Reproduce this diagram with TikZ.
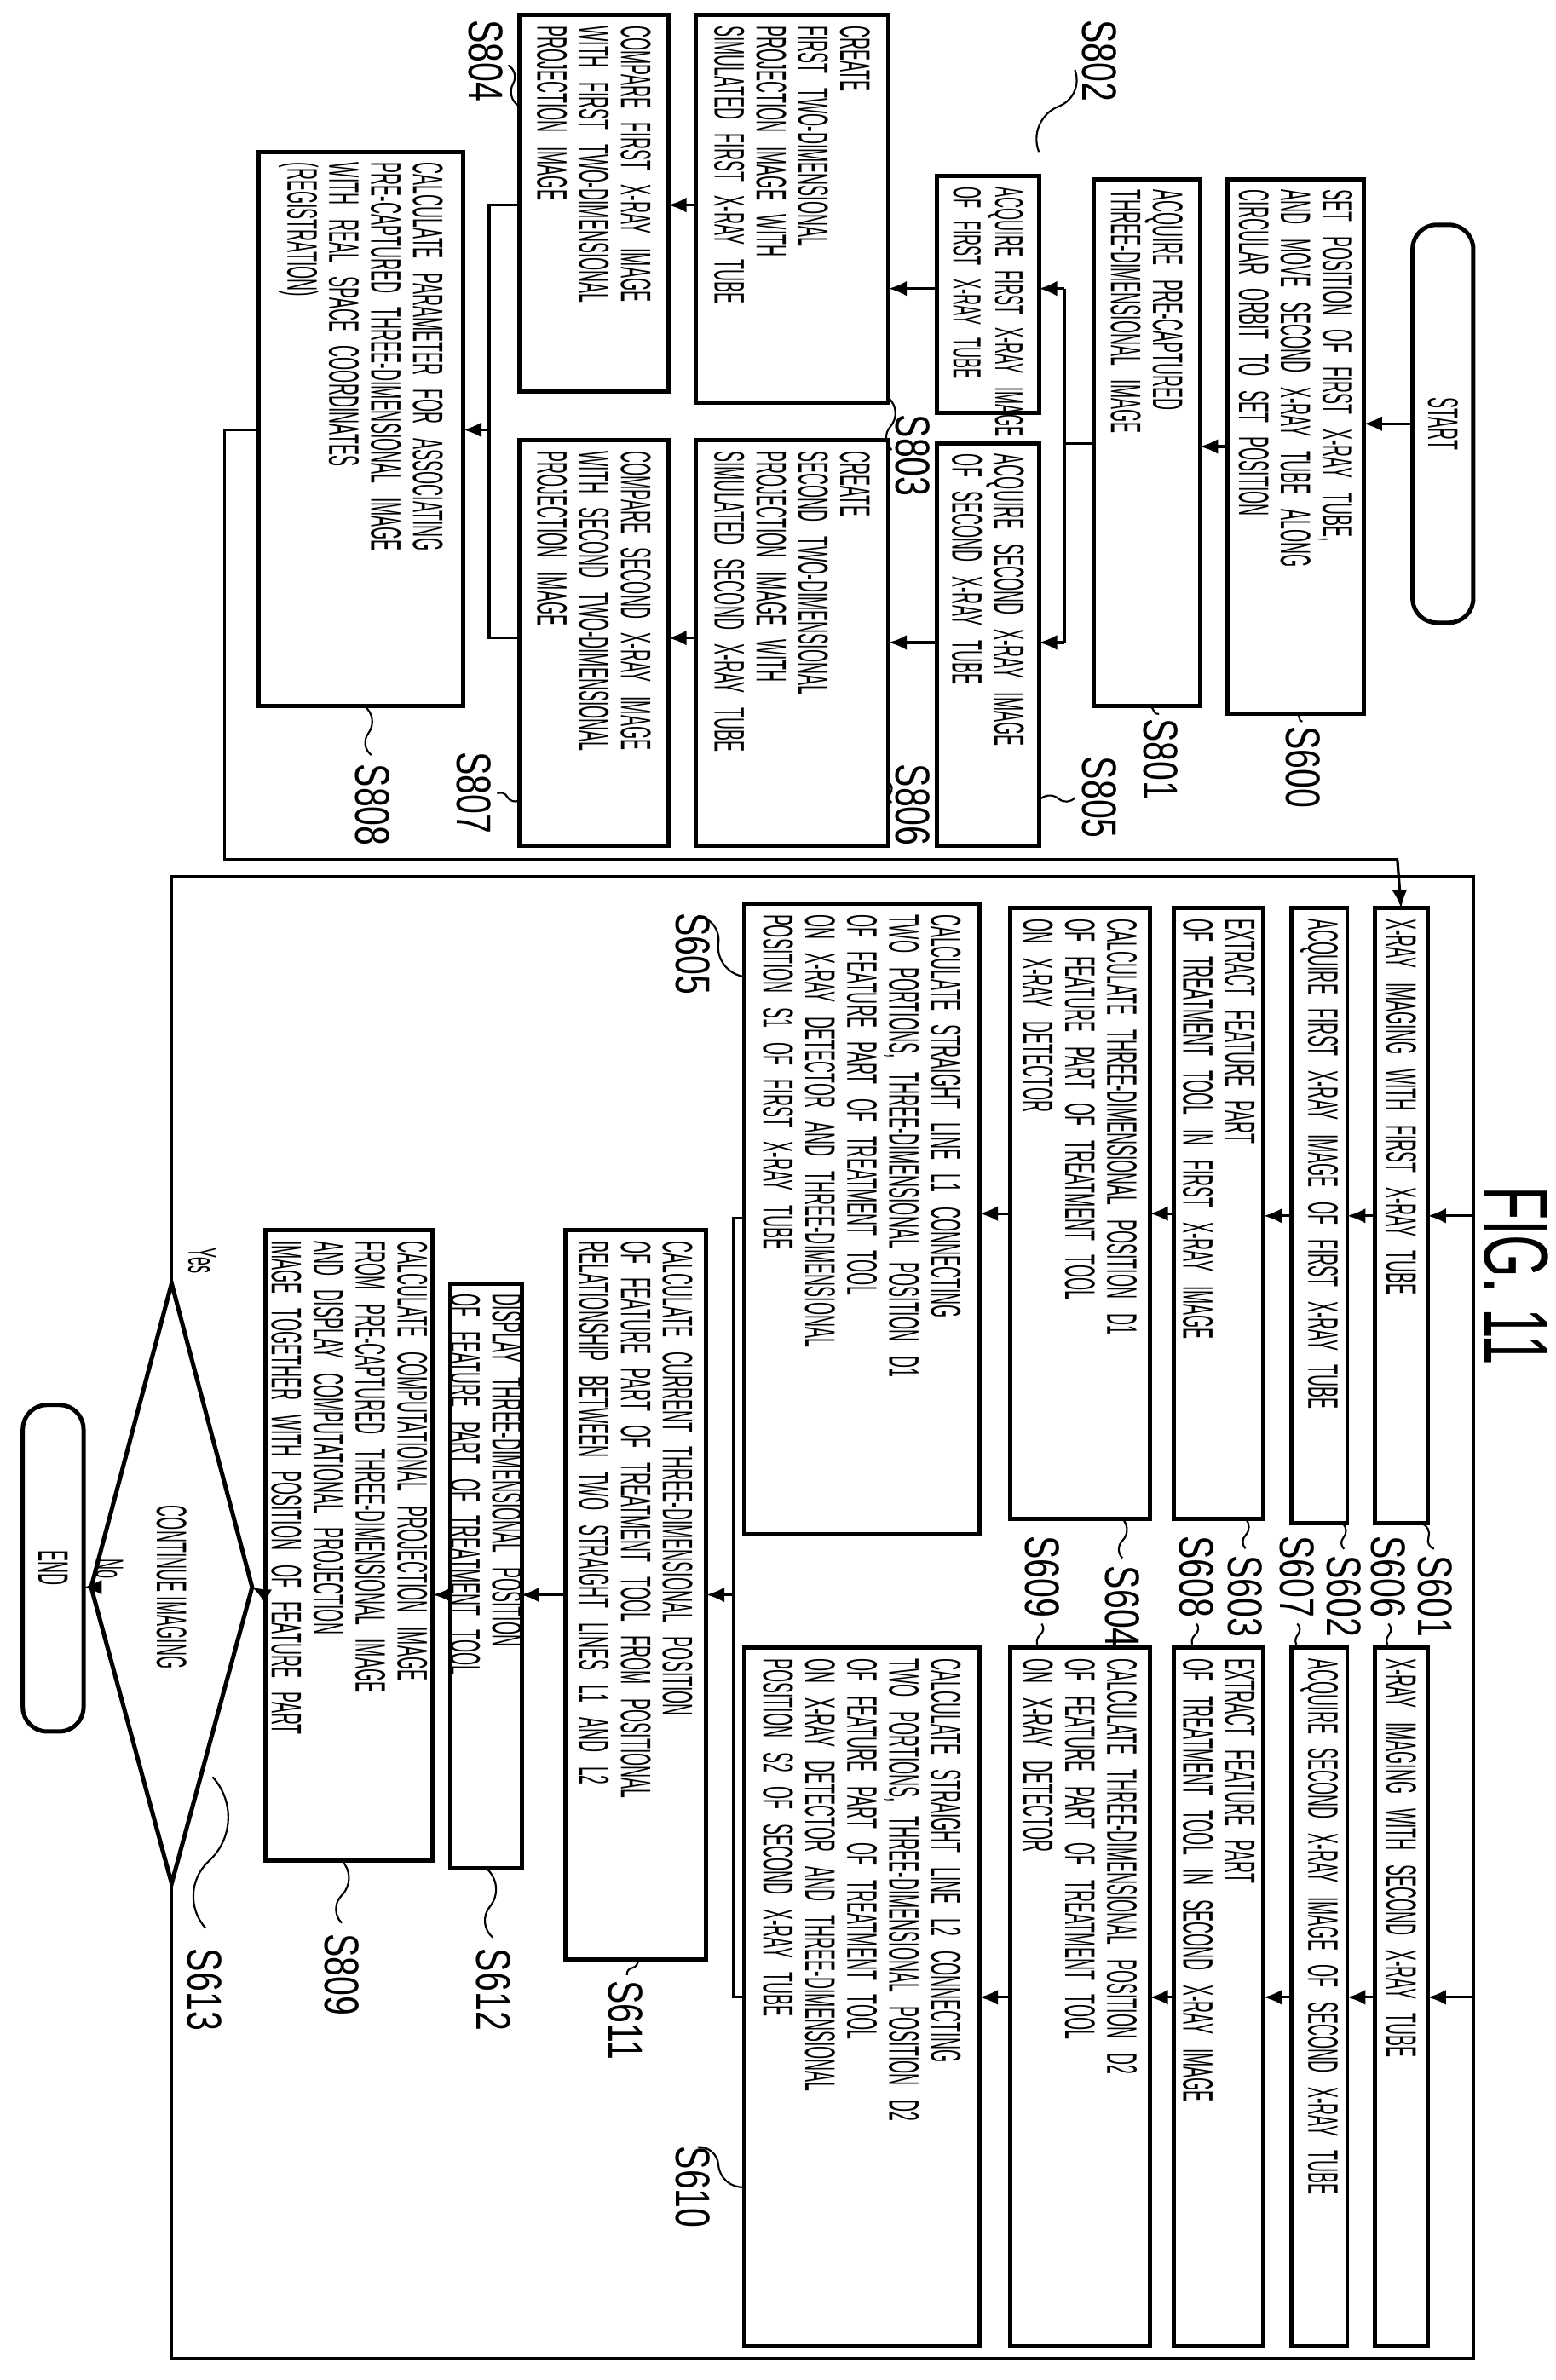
\documentclass[tikz,border=0pt]{standalone}
\usepackage{fontspec}
\setmainfont[FakeStretch=0.39]{Liberation Sans}
\newfontfamily\narrowfont[FakeStretch=0.33]{Liberation Sans}
\newfontfamily\labfont[FakeStretch=0.72]{Liberation Sans}
\newfontfamily\figfont[FakeStretch=0.6]{Liberation Sans}
\usetikzlibrary{arrows.meta,calc}
\tikzset{
  box/.style={draw,line width=1.4pt,rotate=-90,inner sep=0pt,font=\fontsize{14pt}{13.8pt}\selectfont,align=left},
  arr/.style={line width=0.9pt,-{Latex[length=6pt,width=5pt]}},
  ln/.style={line width=0.9pt},
  lab/.style={rotate=-90,font=\labfont\fontsize{16pt}{16pt}\selectfont,inner sep=1pt},
}
\newcommand\bx[7][]{%
  \pgfmathsetmacro\bw{(#5-#3)*0.5}\pgfmathsetmacro\bh{(#4-#2)*0.5}\pgfmathsetmacro\tw{(#5-#3)*0.5-7}%
  \node[box,minimum width=\bw pt,minimum height=\bh pt,text width=\tw pt,#1] (#6) at ({(#2+#4)/2},{(#3+#5)/2}) {#7};
  \coordinate (#6-r) at (#4,{(#3+#5)/2});
  \coordinate (#6-l) at (#2,{(#3+#5)/2});
  \coordinate (#6-t) at ({(#2+#4)/2},#3);
  \coordinate (#6-b) at ({(#2+#4)/2},#5);
}
\newcommand\lab[6][west]{% anchor; name, lx, ly, cx, cy
  \node[lab] (#2) at (#3,#4) {#2};
  \coordinate (#2c) at (#5,#6);
  \draw[line width=0.6pt] (#2c) to[bend left=45] ($(#2c)!0.5!(#2.#1)$) to[bend right=45] ($(#2c)!0.9!(#2.#1)$);
}
\begin{document}
\begin{tikzpicture}[x=0.5pt,y=-0.5pt]
\useasboundingbox (0,0) rectangle (1024,1567);
% top part
\bx[rounded corners=8pt,align=center]{930}{148}{970}{410}{start}{START}
\bx{808}{118}{898}{470}{s600}{SET POSITION OF FIRST X-RAY TUBE,\\AND MOVE SECOND X-RAY TUBE ALONG\\CIRCULAR ORBIT TO SET POSITION}
\bx{720}{118}{790}{465}{s801}{ACQUIRE PRE-CAPTURED\\THREE-DIMENSIONAL IMAGE}
\bx[font=\fontsize{13pt}{13.8pt}\selectfont]{617}{116}{684}{272}{s802}{\mbox{ACQUIRE FIRST X-RAY IMAGE}\\\mbox{OF FIRST X-RAY TUBE}}
\bx{617}{292}{684}{557}{s805}{ACQUIRE SECOND X-RAY IMAGE\\OF SECOND X-RAY TUBE}
\bx{458}{10}{585}{265}{s803}{CREATE\\FIRST TWO-DIMENSIONAL\\PROJECTION IMAGE WITH\\SIMULATED FIRST X-RAY TUBE}
\bx{458}{290}{585}{557}{s806}{CREATE\\SECOND TWO-DIMENSIONAL\\PROJECTION IMAGE WITH\\SIMULATED SECOND X-RAY TUBE}
\bx{342}{10}{440}{258}{s804}{COMPARE FIRST X-RAY IMAGE\\WITH FIRST TWO-DIMENSIONAL\\PROJECTION IMAGE}
\bx{342}{290}{440}{557}{s807}{COMPARE SECOND X-RAY IMAGE\\WITH SECOND TWO-DIMENSIONAL\\PROJECTION IMAGE}
\bx{170}{100}{305}{465}{s808}{CALCULATE PARAMETER FOR ASSOCIATING\\PRE-CAPTURED THREE-DIMENSIONAL IMAGE\\WITH REAL SPACE COORDINATES\\(REGISTRATION)}

\draw[arr] (start-l) -- (s600-r|-start-l);
\draw[arr] (s600-l) -- (s801-r|-s600-l);
\coordinate (j1) at (701,292);
\coordinate (j1a) at (701,190);
\coordinate (j1b) at (701,423);
\draw[ln] (s801-l|-j1) -- (j1);
\draw[ln] (j1a) -- (j1b);
\draw[arr] (j1a) -- (s802-r|-j1a);
\draw[arr] (j1b) -- (s805-r|-j1b);
\draw[arr] (s802-l|-j1a) -- (s803-r|-j1a);
\draw[arr] (s805-l|-j1b) -- (s806-r|-j1b);
\coordinate (c3) at (458,135); \coordinate (c6) at (458,420);
\draw[arr] (c3) -- (s804-r|-c3);
\draw[arr] (c6) -- (s807-r|-c6);
\coordinate (j2a) at (322,135); \coordinate (j2b) at (322,420); \coordinate (j2) at (322,283);
\draw[ln] (s804-l|-j2a) -- (j2a) -- (j2b) -- (s807-l|-j2b);
\draw[arr] (j2) -- (s808-r|-j2);

\lab{S600}{858}{505}{853}{470}
\lab{S801}{764}{500}{755}{465}
\lab[south]{S802}{724}{40}{684}{100}
\lab[south]{S805}{724}{525}{684}{527}
\lab[south]{S803}{601}{300}{585}{262}
\lab[south]{S806}{601}{530}{585}{515}
\lab[north]{S804}{320}{40}{342}{70}
\lab[north]{S807}{312}{522}{342}{527}
\lab{S808}{245}{530}{240}{465}

\node[rotate=-90,font=\figfont\fontsize{30pt}{30pt}\selectfont] (fig) at (998,840) {FIG. 11};

% lower part
\bx{905}{598}{940}{1003}{s601}{X-RAY IMAGING WITH FIRST X-RAY TUBE}
\bx{905}{1085}{940}{1545}{s606}{X-RAY IMAGING WITH SECOND X-RAY TUBE}
\bx{850}{598}{887}{1003}{s602}{ACQUIRE FIRST X-RAY IMAGE OF FIRST X-RAY TUBE}
\bx{850}{1085}{887}{1545}{s607}{ACQUIRE SECOND X-RAY IMAGE OF SECOND X-RAY TUBE}
\bx{773}{598}{832}{1000}{s603}{EXTRACT FEATURE PART\\OF TREATMENT TOOL IN FIRST X-RAY IMAGE}
\bx{773}{1085}{832}{1545}{s608}{EXTRACT FEATURE PART\\OF TREATMENT TOOL IN SECOND X-RAY IMAGE}
\bx{665}{598}{757}{1000}{s604}{CALCULATE THREE-DIMENSIONAL POSITION D1\\OF FEATURE PART OF TREATMENT TOOL\\ON X-RAY DETECTOR}
\bx{665}{1085}{757}{1545}{s609}{CALCULATE THREE-DIMENSIONAL POSITION D2\\OF FEATURE PART OF TREATMENT TOOL\\ON X-RAY DETECTOR}
\bx{490}{595}{645}{1010}{s605}{CALCULATE STRAIGHT LINE L1 CONNECTING\\TWO PORTIONS, THREE-DIMENSIONAL POSITION D1\\OF FEATURE PART OF TREATMENT TOOL\\ON X-RAY DETECTOR AND THREE-DIMENSIONAL\\POSITION S1 OF FIRST X-RAY TUBE}
\bx{490}{1085}{645}{1545}{s610}{CALCULATE STRAIGHT LINE L2 CONNECTING\\TWO PORTIONS, THREE-DIMENSIONAL POSITION D2\\OF FEATURE PART OF TREATMENT TOOL\\ON X-RAY DETECTOR AND THREE-DIMENSIONAL\\POSITION S2 OF SECOND X-RAY TUBE}
\bx{372}{810}{465}{1290}{s611}{CALCULATE CURRENT THREE-DIMENSIONAL POSITION\\OF FEATURE PART OF TREATMENT TOOL FROM POSITIONAL\\RELATIONSHIP BETWEEN TWO STRAIGHT LINES L1 AND L2}
\bx{297}{845}{343}{1230}{s612}{DISPLAY THREE-DIMENSIONAL POSITION\\OF FEATURE PART OF TREATMENT TOOL}
\bx{175}{810}{285}{1225}{s809}{CALCULATE COMPUTATIONAL PROJECTION IMAGE\\FROM PRE-CAPTURED THREE-DIMENSIONAL IMAGE\\AND DISPLAY COMPUTATIONAL PROJECTION\\IMAGE TOGETHER WITH POSITION OF FEATURE PART}
\bx[rounded corners=8pt,align=center]{15}{925}{55}{1140}{end}{END}

% decision
\coordinate (dT) at (113,845); \coordinate (dB) at (113,1240);
\coordinate (dL) at (60,1045); \coordinate (dR) at (166,1045);
\draw[line width=1.4pt] (dT) -- (dR) -- (dB) -- (dL) -- cycle;
\node[rotate=-90,font=\fontsize{14pt}{14pt}\selectfont] (dec) at (113,1045) {CONTINUE IMAGING};
\node[rotate=-90,font=\fontsize{13pt}{13pt}\selectfont] (yes) at (133,830) {Yes};
\node[rotate=-90,font=\fontsize{13pt}{13pt}\selectfont] (no) at (72,1033) {No};

% arrows lower
\foreach \a/\b in {s601/s602,s602/s603,s603/s604,s604/s605,s606/s607,s607/s608,s608/s609,s609/s610}
  \draw[arr] (\a-l) -- (\b-r|-\a-l);
\coordinate (j3a) at (483,802); \coordinate (j3b) at (483,1315); \coordinate (j3) at (483,1050);
\draw[ln] (s605-l|-j3a) -- (j3a) -- (j3b) -- (s610-l|-j3b);
\draw[arr] (j3) -- (s611-r|-j3);
\draw[arr] (s611-l|-j3) -- (s612-r|-j3);
\draw[arr] (s612-l|-j3) -- (s809-r|-j3);
\draw[arr] (s809-l|-j3) -- (dR);
\draw[arr] (dL) -- (end-r|-dL);

% loops
\coordinate (p1) at (148,283); \coordinate (p2) at (148,566); \coordinate (p3) at (920,566);
\draw[ln] (s808-l|-p1) -- (p1) -- (p2) -- (p3);
\draw[arr] (p3) -- (s601-t);
\coordinate (o1) at (113,577); \coordinate (o2) at (970,577); \coordinate (o3) at (970,1553); \coordinate (o4) at (113,1553);
\draw[ln] (dT) -- (o1) -- (o2) -- (o3) -- (o4) -- (dB);
\draw[arr] (o2|-s601-r) -- (s601-r);
\draw[arr] (o2|-s606-r) -- (s606-r);

\lab{S601}{945}{1051}{936}{1003}
\lab[east]{S606}{914}{1038}{915}{1085}
\lab{S602}{885}{1051}{884}{1003}
\lab[east]{S607}{854}{1038}{855}{1085}
\lab{S603}{820}{1051}{820}{1000}
\lab[east]{S608}{788}{1038}{786}{1085}
\lab{S604}{739}{1058}{739}{1000}
\lab[east]{S609}{686}{1038}{684}{1085}
\lab{S605}{456}{628}{490}{643}
\lab{S610}{456}{1440}{490}{1440}
\lab{S611}{412}{1330}{420}{1290}
\lab{S612}{325}{1310}{320}{1230}
\lab{S809}{225}{1300}{225}{1225}
\lab{S613}{135}{1310}{140}{1170}
\end{tikzpicture}
\end{document}
